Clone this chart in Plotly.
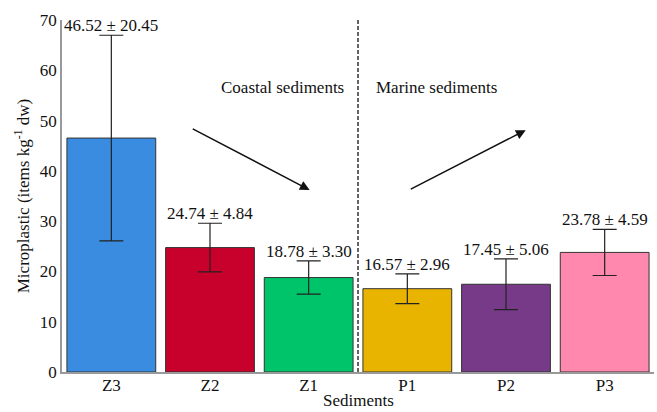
import plotly.graph_objects as go

sites = ["Z3", "Z2", "Z1", "P1", "P2", "P3"]
means = [46.52, 24.74, 18.78, 16.57, 17.45, 23.78]
sds = [20.45, 4.84, 3.30, 2.96, 5.06, 4.59]
colors = ["#3a8ce0", "#c8002c", "#00c46a", "#e8b400", "#763a88", "#ff88ae"]

FONT = "'Liberation Serif', 'Times New Roman', serif"

fig = go.Figure()
fig.add_trace(go.Bar(
    x=sites, y=means,
    marker=dict(color=colors, line=dict(color="#333333", width=1)),
    error_y=dict(type="data", array=sds, visible=True, color="#222222", thickness=1.2, width=12),
    showlegend=False, hoverinfo="skip",
))

for s, m, d in zip(sites, means, sds):
    fig.add_annotation(x=s, y=m + d, text=f"{m:.2f} ± {d:.2f}", showarrow=False,
                       yanchor="bottom", yshift=-2, font=dict(family=FONT, size=17, color="#111"))

# divider between coastal and marine
fig.add_shape(type="line", xref="x", yref="y", x0=2.5, x1=2.5, y0=0, y1=70.8,
              line=dict(color="#111", width=1.3, dash="4px,2px"))

fig.add_annotation(x=1.73, y=56.5, text="Coastal sediments", showarrow=False,
                   font=dict(family=FONT, size=17, color="#111"))
fig.add_annotation(x=3.3, y=56.5, text="Marine sediments", showarrow=False,
                   font=dict(family=FONT, size=17, color="#111"))

fig.add_annotation(x=2.01, y=36.2, ax=0.81, ay=48.5, xref="x", yref="y", axref="x", ayref="y",
                   text="", showarrow=True, arrowhead=2, arrowsize=1.3, arrowwidth=1.5, arrowcolor="#111")
fig.add_annotation(x=4.2, y=48.1, ax=3.02, ay=36.2, xref="x", yref="y", axref="x", ayref="y",
                   text="", showarrow=True, arrowhead=2, arrowsize=1.3, arrowwidth=1.5, arrowcolor="#111")

fig.add_annotation(x=0.5, y=0, xref="paper", yref="paper", yshift=-40, yanchor="bottom",
                   text="Sediments", showarrow=False, font=dict(family=FONT, size=17, color="#111"))

fig.update_layout(
    width=657, height=412,
    margin=dict(l=62, r=3, t=20, b=40),
    plot_bgcolor="white", paper_bgcolor="white",
    bargap=0.1,
    font=dict(family=FONT, size=17, color="#111"),
    xaxis=dict(automargin=False, ticklabelstandoff=-3,
               showline=True, linecolor="#999", linewidth=1.5, ticks="", showgrid=False,
               tickfont=dict(size=17)),
    yaxis=dict(automargin=False,
               title=dict(text="Microplastic (items kg<sup>-1</sup> dw)", font=dict(size=17), standoff=6),
               range=[0, 70], dtick=10, showline=True, linecolor="#999", linewidth=1.5,
               ticks="", showgrid=False, zeroline=False, tickfont=dict(size=17)),
)

fig.write_html("out.html", config={"displayModeBar": False},
               post_script="document.body.style.margin='0';document.body.style.overflow='hidden';")
